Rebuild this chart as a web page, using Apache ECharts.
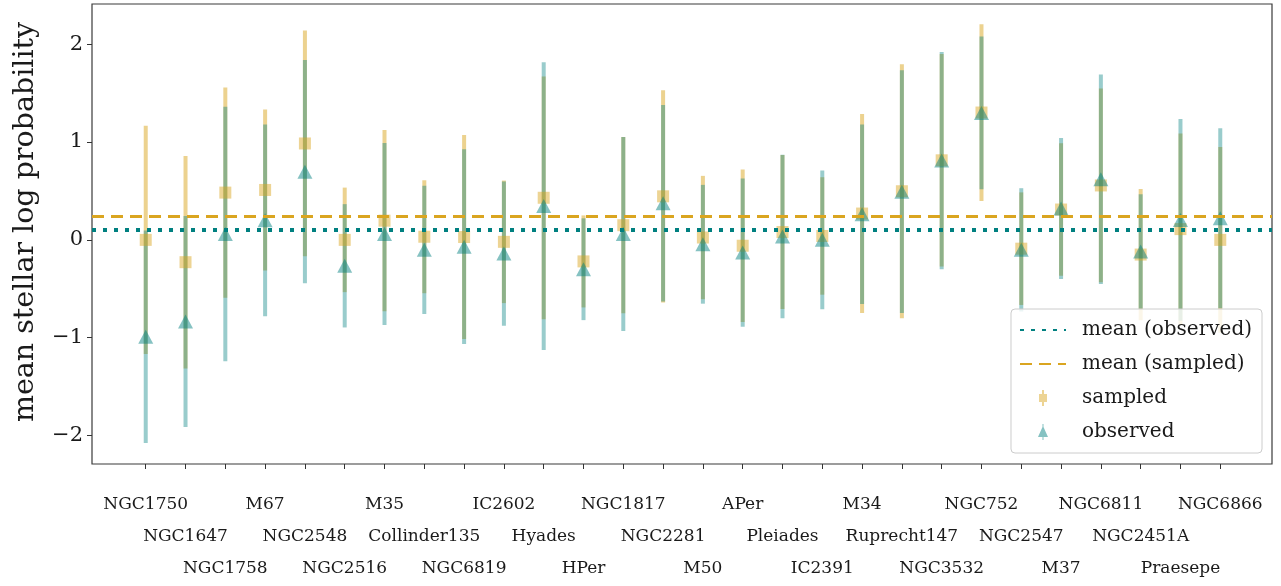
<!DOCTYPE html>
<html>
<head>
<meta charset="utf-8">
<script src="https://cdn.jsdelivr.net/npm/echarts@6/dist/echarts.min.js"></script>
<style>
  html, body { margin: 0; padding: 0; background: #fff; }
  #chart { width: 1281px; height: 586px; }
</style>
</head>
<body>
<div id="chart"></div>
<script>
// Open clusters, in plotting order
const categories = ['NGC1750','NGC1647','NGC1758','M67','NGC2548','NGC2516','M35','Collinder135',
  'NGC6819','IC2602','Hyades','HPer','NGC1817','NGC2281','M50','APer','Pleiades','IC2391','M34',
  'Ruprecht147','NGC3532','NGC752','NGC2547','M37','NGC6811','NGC2451A','Praesepe','NGC6866'];

// Mean stellar log probability of sampled stars, with 1-sigma spread
const sampledMean = [0.00, -0.228, 0.483, 0.51, 0.985, 0.00, 0.196, 0.032, 0.029, -0.02, 0.43, -0.22,
  0.15, 0.445, 0.024, -0.06, 0.08, 0.04, 0.269, 0.497, 0.813, 1.301, -0.09, 0.31, 0.556, -0.15, 0.11, 0.00];
const sampledErr = [1.165, 1.085, 1.075, 0.823, 1.153, 0.534, 0.926, 0.577, 1.042, 0.626, 1.24, 0.47,
  0.90, 1.085, 0.63, 0.78, 0.787, 0.60, 1.017, 1.297, 1.085, 0.903, 0.575, 0.677, 0.99, 0.67, 0.978, 0.95];

// Mean stellar log probability of observed members, with 1-sigma spread
const observedMean = [-0.99, -0.833, 0.06, 0.20, 0.697, -0.265, 0.06, -0.102, -0.07, -0.14, 0.345, -0.30,
  0.06, 0.374, -0.045, -0.13, 0.035, 0.00, 0.263, 0.492, 0.81, 1.297, -0.102, 0.32, 0.62, -0.119, 0.204, 0.221];
const observedErr = [1.085, 1.078, 1.30, 0.98, 1.14, 0.63, 0.93, 0.656, 0.995, 0.737, 1.47, 0.52,
  0.99, 1.004, 0.607, 0.757, 0.836, 0.71, 0.917, 1.24, 1.11, 0.78, 0.63, 0.72, 1.07, 0.585, 1.03, 0.92];

// Overall means
const meanObserved = 0.105;
const meanSampled = 0.242;

const yTicks = [-2, -1, 0, 1, 2];

const FONT = "'DejaVu Serif', 'Liberation Serif', serif";
const TEXT = '#1a1a1a';
const ORANGE = '#DAA520';
const TEAL = '#008080';
const CLEAR = 'rgba(0,0,0,0)';
const X_MIN = -1.35, X_MAX = 28.3;

const xIndex = categories.map((_, i) => i);

// Cluster names are staggered over three rows; each row gets its own axis
function labelAxis(row) {
  const values = xIndex.filter(i => i % 3 === row);
  return {
    type: 'value',
    position: 'bottom',
    min: X_MIN, max: X_MAX,
    axisLine: { show: false, onZero: false },
    splitLine: { show: false },
    axisTick: { show: row === 0, length: 5, customValues: xIndex, lineStyle: { color: '#333', width: 1 } },
    axisLabel: {
      customValues: values,
      margin: 25 + row * 32,
      hideOverlap: false,
      fontFamily: FONT, fontSize: 17, color: TEXT, lineHeight: 32,
      formatter: v => categories[Math.round(v)]
    }
  };
}

function errorBarSeries(name, means, errs, color) {
  return {
    name: name,
    type: 'custom',
    silent: true,
    data: means.map((m, i) => [i, m, errs[i]]),
    encode: { x: 0, y: 1 },
    renderItem: function (params, api) {
      const x = api.value(0), m = api.value(1), e = api.value(2);
      const p1 = api.coord([x, m + e]);
      const p2 = api.coord([x, m - e]);
      return {
        type: 'line',
        shape: { x1: p1[0], y1: p1[1], x2: p2[0], y2: p2[1] },
        style: { stroke: color, lineWidth: 4, lineCap: 'butt' }
      };
    }
  };
}

const chart = echarts.init(document.getElementById('chart'), null, { renderer: 'canvas' });

chart.setOption({
  animation: false,
  backgroundColor: '#ffffff',
  textStyle: { fontFamily: FONT },
  grid: {
    left: 92, right: 9, top: 4, bottom: 122,
    show: true, borderColor: '#3a3a3a', borderWidth: 1.2, backgroundColor: '#ffffff'
  },
  xAxis: [labelAxis(0), labelAxis(1), labelAxis(2)],
  yAxis: {
    type: 'value',
    min: -2.29, max: 2.41,
    name: 'mean stellar log probability',
    nameLocation: 'middle',
    nameRotate: 90,
    nameGap: 52,
    nameTextStyle: { fontFamily: FONT, fontSize: 28.5, color: TEXT, padding: [0, 0, 0, 24] },
    axisLine: { show: false, onZero: false },
    splitLine: { show: false },
    axisTick: { show: true, length: 5, customValues: yTicks, lineStyle: { color: '#333', width: 1 } },
    axisLabel: {
      customValues: yTicks,
      margin: 9,
      hideOverlap: false,
      fontFamily: FONT, fontSize: 21, color: TEXT,
      formatter: v => (v < 0 ? '\u2212' + Math.abs(v) : String(v))
    }
  },
  legend: {
    orient: 'vertical',
    right: 19, bottom: 133,
    padding: [9, 10, 9, 8],
    itemWidth: 46, itemHeight: 16,
    itemGap: 10,
    backgroundColor: 'rgba(255,255,255,0.8)',
    borderColor: '#cccccc', borderWidth: 1, borderRadius: 4,
    textStyle: { fontFamily: FONT, fontSize: 20, color: TEXT, lineHeight: 24, padding: [0, 0, 0, 11] },
    data: [
      { name: 'mean (observed)', itemStyle: { color: CLEAR, borderColor: CLEAR, borderWidth: 0 } },
      { name: 'mean (sampled)', itemStyle: { color: CLEAR, borderColor: CLEAR, borderWidth: 0 } },
      { name: 'sampled', icon: 'path://M5,0H7V4H10V12H7V16H5V12H2V4H5Z',
        itemStyle: { color: 'rgba(218,165,32,0.6)' } },
      { name: 'observed', icon: 'path://M5.5,0H6.5V3L11,13H6.5V16H5.5V13H1L5.5,3Z',
        itemStyle: { color: 'rgba(0,128,128,0.6)' } }
    ],
    z: 20
  },
  series: [
    {
      name: 'mean (observed)',
      type: 'line',
      data: [],
      symbol: 'none',
      lineStyle: { color: TEAL, width: 4, type: [4, 7] },
      itemStyle: { color: TEAL },
      markLine: {
        silent: true, symbol: 'none', label: { show: false },
        lineStyle: { color: TEAL, width: 4, type: [4, 7] },
        data: [{ yAxis: meanObserved }]
      }
    },
    {
      name: 'mean (sampled)',
      type: 'line',
      data: [],
      symbol: 'none',
      lineStyle: { color: ORANGE, width: 3, type: [12, 7] },
      itemStyle: { color: ORANGE },
      markLine: {
        silent: true, symbol: 'none', label: { show: false },
        lineStyle: { color: ORANGE, width: 3, type: [12, 7] },
        data: [{ yAxis: meanSampled }]
      }
    },
    errorBarSeries('sampled spread', sampledMean, sampledErr, 'rgba(218,165,32,0.5)'),
    {
      name: 'sampled',
      type: 'scatter',
      symbol: 'rect',
      symbolSize: 12,
      itemStyle: { color: 'rgba(218,165,32,0.6)' },
      data: sampledMean.map((m, i) => [i, m])
    },
    errorBarSeries('observed spread', observedMean, observedErr, 'rgba(0,128,128,0.4)'),
    {
      name: 'observed',
      type: 'scatter',
      symbol: 'triangle',
      symbolSize: [15, 14],
      itemStyle: { color: 'rgba(0,128,128,0.6)' },
      data: observedMean.map((m, i) => [i, m])
    }
  ]
});
</script>
</body>
</html>
